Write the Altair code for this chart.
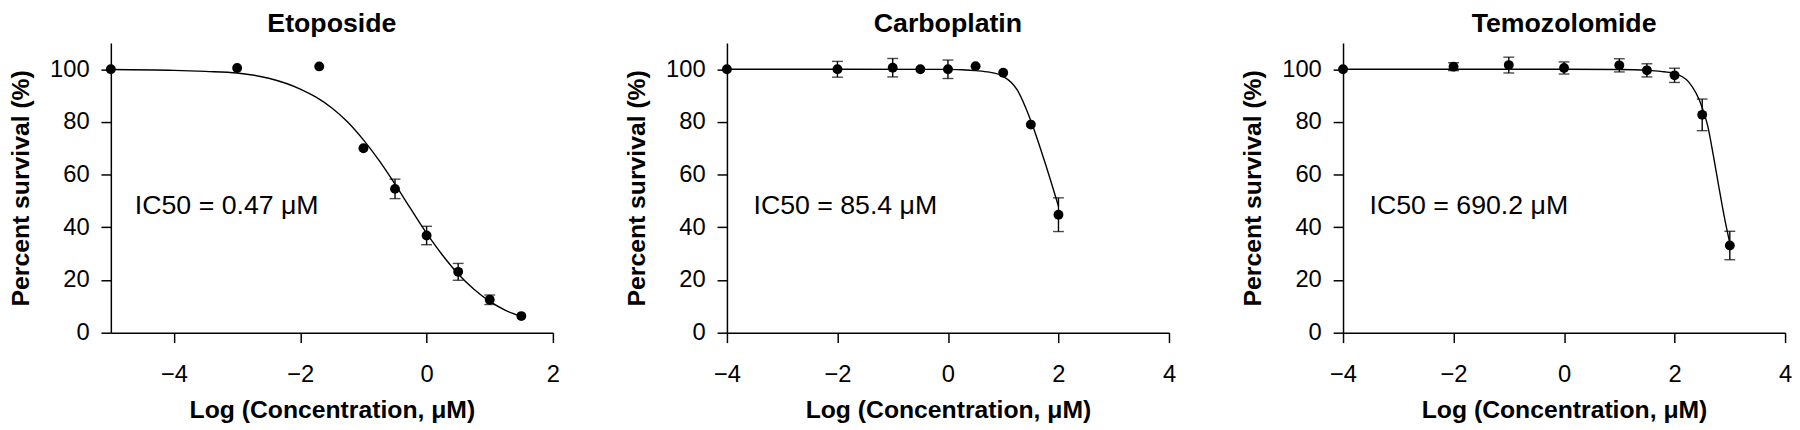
import altair as alt
import pandas as pd

FONT = "Liberation Sans"

drugs = ["Etoposide", "Carboplatin", "Temozolomide"]
ic50_labels = ["IC50 = 0.47 μM", "IC50 = 85.4 μM", "IC50 = 690.2 μM"]
x_title = "Log (Concentration, μM)"
y_title = "Percent survival (%)"
y_ticks = [0, 20, 40, 60, 80, 100]

# Etoposide
eto_x = [-5, -3, -1.7, -1, -0.5, 0, 0.5, 1, 1.5]
eto_y = [100, 100.5, 101.1, 70, 54.6, 36.9, 23.1, 12.5, 6.3]
eto_err = [0, 0, 0, 0, 3.7, 3.5, 3.2, 1.8, 0]
eto_curve_x = [-5, -4, -3.5, -3, -2.5, -2, -1.75, -1.5, -1.25, -1, -0.75, -0.5, -0.25, 0,
               0.25, 0.5, 0.75, 1, 1.25, 1.5]
eto_curve_y = [99.9, 99.6, 99.2, 98.6, 96.6, 92.5, 89.4, 85.3, 80.0, 73.2, 65.3, 56.4,
               47.0, 37.8, 29.5, 22.3, 16.5, 11.9, 8.5, 6.2]

# Carboplatin
carbo_x = [-4, -2, -1, -0.5, 0, 0.5, 1, 1.5, 2]
carbo_y = [100, 100, 100.6, 100, 100, 101.2, 98.7, 79, 44.8]
carbo_err = [0, 3, 3.5, 0, 3.5, 0, 0, 0, 6.4]
carbo_curve_x = [-4, -2, 0, 0.25, 0.5, 0.75, 1.0, 1.25, 1.5, 1.75, 2.0]
carbo_curve_y = [100, 100, 99.95, 99.8, 99.5, 98.9, 97.3, 92.3, 80.5, 65.0, 48.0]

# Temozolomide
temo_x = [-4, -2, -1, 0, 1, 1.5, 2, 2.5, 3]
temo_y = [100, 101, 101.6, 100.5, 101.5, 99.6, 97.7, 82.7, 33.1]
temo_err = [0, 1.5, 3, 2.3, 2.5, 2.5, 2.7, 6, 5.4]
temo_curve_x = [-4, -2, 0, 1, 1.5, 1.75, 2.0, 2.25, 2.5, 2.6, 2.7, 2.8, 2.9, 3.0]
temo_curve_y = [100, 100, 100, 99.9, 99.6, 99.2, 98.4, 95.3, 85.5, 78.5, 67.5, 55.5, 44, 34]

x_domains = [[-5, 2], [-4, 4], [-4, 4]]
x_ticks = [[-4, -2, 0, 2], [-4, -2, 0, 2, 4], [-4, -2, 0, 2, 4]]
label_pos = [(-4.62, 48), (-3.52, 48), (-3.52, 48)]

W, H = 447, 293


def panel(i, px, py, perr, cx, cy):
    xs = alt.Scale(domain=x_domains[i], nice=False, zero=False)
    ys = alt.Scale(domain=[0, 110], nice=False, zero=False)
    xaxis = alt.Axis(values=x_ticks[i], title=x_title, titleY=86,
                     titleBaseline="alphabetic")
    yaxis = alt.Axis(values=y_ticks, title=y_title, titleX=-83, titleY=H / 2,
                     titleBaseline="alphabetic")
    pts = pd.DataFrame({"x": px, "y": py, "err": perr})
    errs = pts[pts["err"] > 0].copy()
    errs["lo"] = errs["y"] - errs["err"]
    errs["hi"] = errs["y"] + errs["err"]
    curve = pd.DataFrame({"x": cx, "y": cy})

    X = alt.X("x:Q", scale=xs, axis=xaxis)

    line = alt.Chart(curve).mark_line(color="black", strokeWidth=1.4,
                                      interpolate="monotone").encode(
        x=X, y=alt.Y("y:Q", scale=ys, axis=yaxis))
    rule = alt.Chart(errs).mark_rule(color="black", strokeWidth=1.4).encode(
        x=X, y=alt.Y("lo:Q", scale=ys, axis=yaxis), y2="hi:Q")
    tlo = alt.Chart(errs).mark_tick(color="black", orient="horizontal", size=11,
                                    thickness=1.4).encode(
        x=X, y=alt.Y("lo:Q", scale=ys, axis=yaxis))
    thi = alt.Chart(errs).mark_tick(color="black", orient="horizontal", size=11,
                                    thickness=1.4).encode(
        x=X, y=alt.Y("hi:Q", scale=ys, axis=yaxis))
    dots = alt.Chart(pts).mark_circle(color="black", opacity=1, size=100).encode(
        x=X, y=alt.Y("y:Q", scale=ys, axis=yaxis))
    lab = pd.DataFrame({"x": [label_pos[i][0]], "y": [label_pos[i][1]],
                        "t": [ic50_labels[i]]})
    text = alt.Chart(lab).mark_text(align="left", baseline="middle", fontSize=27,
                                    font=FONT, color="black").encode(
        x=X, y=alt.Y("y:Q", scale=ys, axis=yaxis), text="t:N")
    ttl = pd.DataFrame({"t": [drugs[i]]})
    title = alt.Chart(ttl).mark_text(align="center", baseline="alphabetic",
                                     fontSize=27, font=FONT, fontWeight="bold",
                                     color="black").encode(
        x=alt.value(W / 2), y=alt.value(-11), text="t:N")
    return alt.layer(line, rule, tlo, thi, dots, text, title).properties(
        width=W, height=H)


p1 = panel(0, eto_x, eto_y, eto_err, eto_curve_x, eto_curve_y)
p2 = panel(1, carbo_x, carbo_y, carbo_err, carbo_curve_x, carbo_curve_y)
p3 = panel(2, temo_x, temo_y, temo_err, temo_curve_x, temo_curve_y)

chart = alt.hconcat(p1, p2, p3, spacing=65).properties(padding=0).configure_view(
    stroke=None).configure_axis(
    grid=False, domainColor="black", tickColor="black", domainWidth=1.5,
    tickWidth=1.5, tickSize=10, labelFont=FONT, labelFontSize=24,
    labelColor="black", titleFont=FONT, titleFontSize=25, titleFontWeight="bold",
    titleColor="black", labelFlush=False, labelOverlap=False).configure_axisX(
    labelPadding=20).configure_axisY(labelPadding=12)

chart.save("out.html", embed_options={"renderer": "svg", "actions": False})
